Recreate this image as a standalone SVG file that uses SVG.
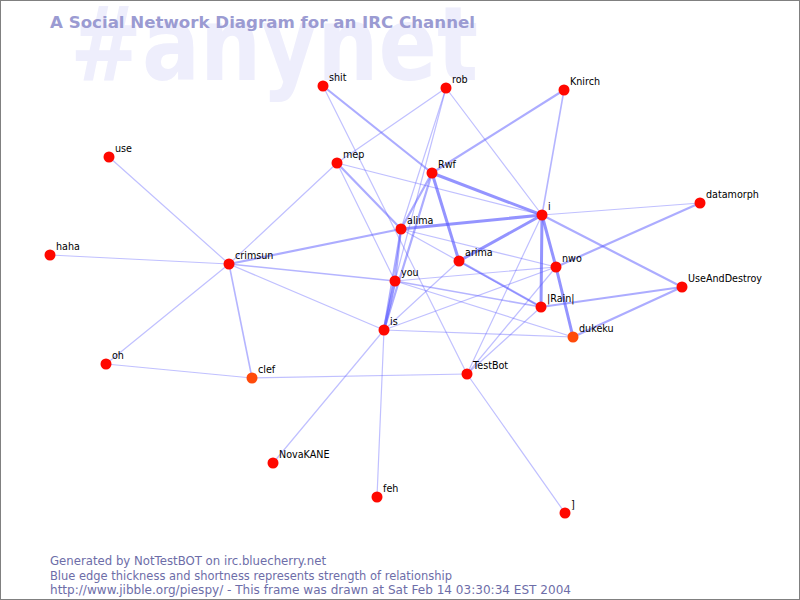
<svg xmlns="http://www.w3.org/2000/svg" width="800" height="600" viewBox="0 0 800 600">
<style>
.bg{fill:#ffffff;stroke:#808080;stroke-width:1}
.wm{font-family:"DejaVu Sans","Liberation Sans",sans-serif;font-size:104px;font-weight:bold;fill:#eeeefc}
.title{font-family:"DejaVu Sans","Liberation Sans",sans-serif;font-size:16px;font-weight:bold;fill:#9b9bd2}
.foot{font-family:"DejaVu Sans","Liberation Sans",sans-serif;font-size:11.5px;fill:#6d6da8}
#edges line{stroke:#5a5aff;stroke-linecap:round}
.e1{stroke-width:1.2;stroke-opacity:0.38}
.e15{stroke-width:1.6;stroke-opacity:0.45}
.e2{stroke-width:2.2;stroke-opacity:0.5}
.e3{stroke-width:3;stroke-opacity:0.65}
.n circle{fill:#ff0800}
.n.o circle{fill:#ff4a0a}
.n text{font-family:"DejaVu Sans","Liberation Sans",sans-serif;font-size:9.6px;fill:#000}
</style>
<rect class="bg" x="0.5" y="0.5" width="799" height="599"/>
<text class="wm" x="70" y="80" textLength="408" lengthAdjust="spacingAndGlyphs">#anynet</text>
<text class="title" x="50" y="28" textLength="425" lengthAdjust="spacingAndGlyphs">A Social Network Diagram for an IRC Channel</text>
<g id="edges">
<line class="e1" x1="229" y1="264" x2="109" y2="157"/>
<line class="e1" x1="229" y1="264" x2="50" y2="255"/>
<line class="e1" x1="229" y1="264" x2="106" y2="364"/>
<line class="e15" x1="229" y1="264" x2="252" y2="378"/>
<line class="e1" x1="229" y1="264" x2="337" y2="163"/>
<line class="e2" x1="229" y1="264" x2="401" y2="229"/>
<line class="e15" x1="229" y1="264" x2="395" y2="281"/>
<line class="e1" x1="229" y1="264" x2="384" y2="330"/>
<line class="e1" x1="106" y1="364" x2="252" y2="378"/>
<line class="e1" x1="252" y1="378" x2="467" y2="374"/>
<line class="e2" x1="323" y1="86" x2="432" y2="173"/>
<line class="e1" x1="323" y1="86" x2="467" y2="374"/>
<line class="e1" x1="446" y1="88" x2="337" y2="163"/>
<line class="e1" x1="446" y1="88" x2="401" y2="229"/>
<line class="e1" x1="446" y1="88" x2="395" y2="281"/>
<line class="e1" x1="446" y1="88" x2="542" y2="215"/>
<line class="e2" x1="564" y1="90" x2="432" y2="173"/>
<line class="e15" x1="564" y1="90" x2="542" y2="215"/>
<line class="e2" x1="337" y1="163" x2="401" y2="229"/>
<line class="e1" x1="337" y1="163" x2="395" y2="281"/>
<line class="e1" x1="337" y1="163" x2="542" y2="215"/>
<line class="e3" x1="432" y1="173" x2="542" y2="215"/>
<line class="e3" x1="432" y1="173" x2="459" y2="261"/>
<line class="e2" x1="432" y1="173" x2="401" y2="229"/>
<line class="e2" x1="432" y1="173" x2="384" y2="330"/>
<line class="e3" x1="401" y1="229" x2="542" y2="215"/>
<line class="e2" x1="401" y1="229" x2="395" y2="281"/>
<line class="e2" x1="401" y1="229" x2="384" y2="330"/>
<line class="e1" x1="401" y1="229" x2="556" y2="267"/>
<line class="e1" x1="401" y1="229" x2="541" y2="307"/>
<line class="e3" x1="395" y1="281" x2="384" y2="330"/>
<line class="e1" x1="395" y1="281" x2="556" y2="267"/>
<line class="e15" x1="395" y1="281" x2="541" y2="307"/>
<line class="e1" x1="395" y1="281" x2="573" y2="337"/>
<line class="e1" x1="384" y1="330" x2="556" y2="267"/>
<line class="e1" x1="384" y1="330" x2="459" y2="261"/>
<line class="e1" x1="384" y1="330" x2="573" y2="337"/>
<line class="e1" x1="384" y1="330" x2="273" y2="463"/>
<line class="e1" x1="384" y1="330" x2="377" y2="497"/>
<line class="e3" x1="459" y1="261" x2="542" y2="215"/>
<line class="e2" x1="459" y1="261" x2="541" y2="307"/>
<line class="e3" x1="542" y1="215" x2="541" y2="307"/>
<line class="e3" x1="542" y1="215" x2="556" y2="267"/>
<line class="e3" x1="556" y1="267" x2="573" y2="337"/>
<line class="e1" x1="542" y1="215" x2="700" y2="203"/>
<line class="e2" x1="700" y1="203" x2="556" y2="267"/>
<line class="e2" x1="542" y1="215" x2="682" y2="287"/>
<line class="e2" x1="682" y1="287" x2="541" y2="307"/>
<line class="e2" x1="682" y1="287" x2="573" y2="337"/>
<line class="e1" x1="467" y1="374" x2="542" y2="215"/>
<line class="e1" x1="467" y1="374" x2="556" y2="267"/>
<line class="e1" x1="467" y1="374" x2="541" y2="307"/>
<line class="e1" x1="467" y1="374" x2="565" y2="513"/>
</g>
<g id="node-shit" class="n"><circle cx="323" cy="86" r="5.5"/><text x="329" y="81">shit</text></g>
<g id="node-rob" class="n"><circle cx="446" cy="88" r="5.5"/><text x="452" y="83">rob</text></g>
<g id="node-Knirch" class="n"><circle cx="564" cy="90" r="5.5"/><text x="570" y="85">Knirch</text></g>
<g id="node-use" class="n"><circle cx="109" cy="157" r="5.5"/><text x="115" y="152">use</text></g>
<g id="node-mep" class="n"><circle cx="337" cy="163" r="5.5"/><text x="343" y="158">mep</text></g>
<g id="node-Rwf" class="n"><circle cx="432" cy="173" r="5.5"/><text x="438" y="168">Rwf</text></g>
<g id="node-datamorph" class="n"><circle cx="700" cy="203" r="5.5"/><text x="706" y="198">datamorph</text></g>
<g id="node-i" class="n"><circle cx="542" cy="215" r="5.5"/><text x="548" y="210">i</text></g>
<g id="node-alima" class="n"><circle cx="401" cy="229" r="5.5"/><text x="407" y="224">alima</text></g>
<g id="node-haha" class="n"><circle cx="50" cy="255" r="5.5"/><text x="56" y="250">haha</text></g>
<g id="node-crimsun" class="n"><circle cx="229" cy="264" r="5.5"/><text x="235" y="259">crimsun</text></g>
<g id="node-arima" class="n"><circle cx="459" cy="261" r="5.5"/><text x="465" y="256">arima</text></g>
<g id="node-nwo" class="n"><circle cx="556" cy="267" r="5.5"/><text x="562" y="262">nwo</text></g>
<g id="node-you" class="n"><circle cx="395" cy="281" r="5.5"/><text x="401" y="276">you</text></g>
<g id="node-UseAndDestroy" class="n"><circle cx="682" cy="287" r="5.5"/><text x="688" y="282">UseAndDestroy</text></g>
<g id="node-Rain" class="n"><circle cx="541" cy="307" r="5.5"/><text x="547" y="302">|Rain|</text></g>
<g id="node-is" class="n"><circle cx="384" cy="330" r="5.5"/><text x="390" y="325">is</text></g>
<g id="node-dukeku" class="n o"><circle cx="573" cy="337" r="5.5"/><text x="579" y="332">dukeku</text></g>
<g id="node-oh" class="n"><circle cx="106" cy="364" r="5.5"/><text x="112" y="359">oh</text></g>
<g id="node-clef" class="n o"><circle cx="252" cy="378" r="5.5"/><text x="258" y="373">clef</text></g>
<g id="node-TestBot" class="n"><circle cx="467" cy="374" r="5.5"/><text x="473" y="369">TestBot</text></g>
<g id="node-NovaKANE" class="n"><circle cx="273" cy="463" r="5.5"/><text x="279" y="458">NovaKANE</text></g>
<g id="node-feh" class="n"><circle cx="377" cy="497" r="5.5"/><text x="383" y="492">feh</text></g>
<g id="node-bracket" class="n"><circle cx="565" cy="513" r="5.5"/><text x="571" y="508">]</text></g>
<text class="foot" x="50" y="565" textLength="276" lengthAdjust="spacingAndGlyphs">Generated by NotTestBOT on irc.bluecherry.net</text>
<text class="foot" x="50" y="580" textLength="402" lengthAdjust="spacingAndGlyphs">Blue edge thickness and shortness represents strength of relationship</text>
<text class="foot" x="50" y="594" textLength="521" lengthAdjust="spacingAndGlyphs">http://www.jibble.org/piespy/ - This frame was drawn at Sat Feb 14 03:30:34 EST 2004</text>
</svg>
